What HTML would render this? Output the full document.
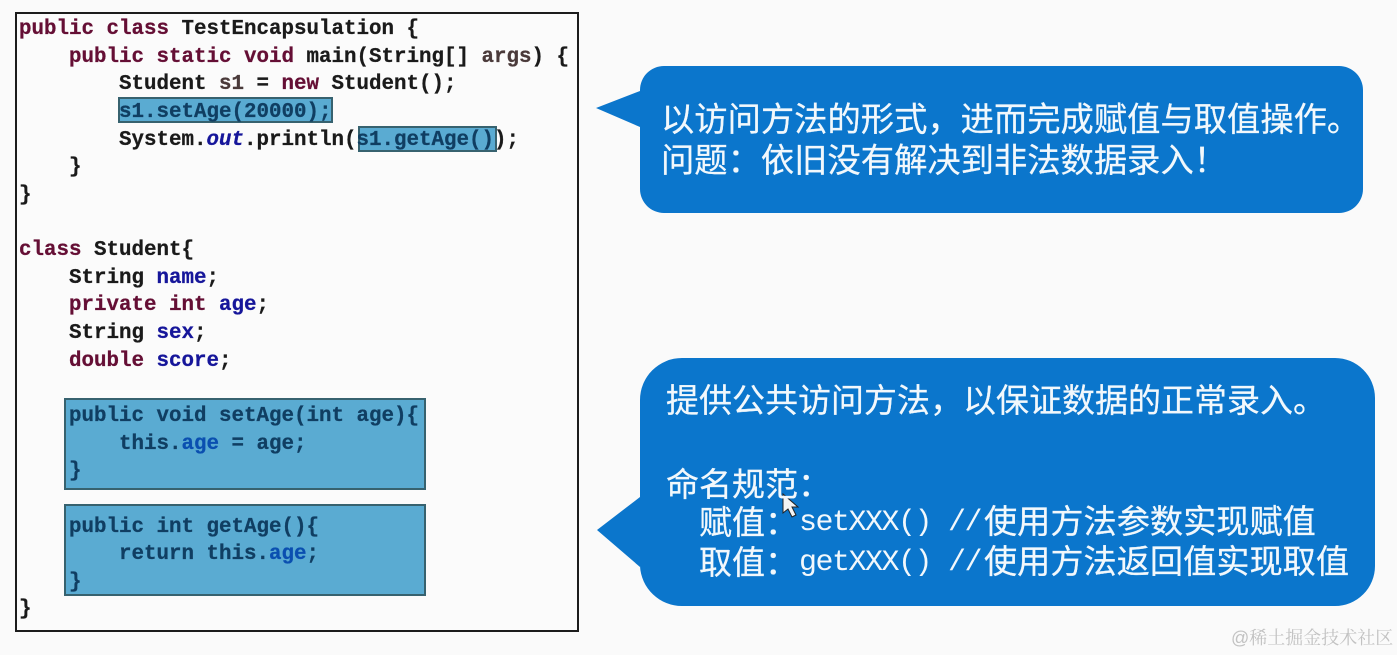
<!DOCTYPE html>
<html lang="zh">
<head>
<meta charset="utf-8">
<style>
html,body{margin:0;padding:0;width:1397px;height:655px;overflow:hidden;background:#fafafa}
#outer{position:absolute;left:15px;top:12px;width:560px;height:616px;border:2px solid #1c1c1c;background:#fbfbfb}
.hl{position:absolute;background:#5aabd2;border:2px solid #37626f;box-sizing:border-box}
pre{position:absolute;left:19px;top:16px;margin:0;font:bold 20.83px/27.64px "Liberation Mono",monospace;color:#1a1a1a;filter:blur(.35px);-webkit-text-stroke:.25px currentColor}
.k{color:#650f35}.f{color:#16169a}.v{color:#4a3a3a}.o{color:#16169a;font-style:italic}
.dk{color:#103e62}.b{color:#0a4fb0}
svg{position:absolute;left:0;top:0}
.c{position:absolute;white-space:pre;color:#f2f8fc;font-family:"Liberation Sans","Noto Sans CJK SC",sans-serif;font-size:33px;line-height:40px;filter:blur(.3px);-webkit-text-stroke:.25px #f2f8fc}
.p{font-family:"Liberation Sans","Noto Sans CJK TC",sans-serif}
.m{font-family:"Liberation Mono",monospace;font-size:30px;letter-spacing:-1.5px;-webkit-text-stroke:0}
#wm{position:absolute;left:1231px;top:627px;font:18px/22px "Liberation Sans","Noto Serif CJK SC",serif;color:#c2c2c2;white-space:pre}
</style>
</head>
<body>
<div id="outer"></div>
<div class="hl" style="left:118px;top:97px;width:215px;height:26px"></div>
<div class="hl" style="left:358px;top:126px;width:139px;height:26px"></div>
<div class="hl" style="left:64px;top:398px;width:362px;height:92px"></div>
<div class="hl" style="left:64px;top:504px;width:362px;height:92px"></div>
<pre><span class="k">public class</span> TestEncapsulation {
    <span class="k">public static void</span> main(String[] <span class="v">args</span>) {
        Student <span class="v">s1</span> = <span class="k">new</span> Student();
        <span class="dk">s1.setAge(20000);</span>
        System.<span class="o">out</span>.println(<span class="dk">s1.getAge()</span>);
    }
}

<span class="k">class</span> Student{
    String <span class="f">name</span>;
    <span class="k">private int</span> <span class="f">age</span>;
    String <span class="f">sex</span>;
    <span class="k">double</span> <span class="f">score</span>;

    <span class="dk">public void setAge(int age){</span>
        <span class="dk">this.</span><span class="b">age</span><span class="dk"> = age;</span>
    <span class="dk">}</span>

    <span class="dk">public int getAge(){</span>
        <span class="dk">return this.</span><span class="b">age</span><span class="dk">;</span>
    <span class="dk">}</span>
}</pre>
<svg width="1397" height="655" viewBox="0 0 1397 655">
<path d="M664 66H1339a24 24 0 0 1 24 24V189a24 24 0 0 1-24 24H664a24 24 0 0 1-24-24V127L596 108L640 91V90a24 24 0 0 1 24-24Z" fill="#0b76cc"/>
<path d="M682 358H1335a40 40 0 0 1 40 40V566a40 40 0 0 1-40 40H682a42 42 0 0 1-42-40V567L597 530L640 497V400a42 42 0 0 1 42-42Z" fill="#0b76cc"/>
<path d="M783 494V513L788 509L792 517L796 515L792 507L798 507Z" fill="#f4f4f4" stroke="#222" stroke-width="1"/>
</svg>
<div class="c" style="left:661px;top:101px;font-size:33.3px">以访问方法的形式，进而完成赋值与取值操作。</div>
<div class="c" style="left:661px;top:142px;font-size:33.3px">问题<span class="p">：</span>依旧没有解决到非法数据录入！</div>
<div class="c" style="left:666px;top:381px">提供公共访问方法，以保证数据的正常录入。</div>
<div class="c" style="left:666px;top:465px">命名规范<span class="p">：</span></div>
<div class="c" style="left:699px;top:503px">赋值<span class="p">：</span></div>
<div class="c m" style="left:799px;top:503px">setXXX()</div>
<div class="c m" style="left:948px;top:503px">//</div>
<div class="c" style="left:984px;top:503px;font-size:33.2px">使用方法参数实现赋值</div>
<div class="c" style="left:699px;top:543px">取值<span class="p">：</span></div>
<div class="c m" style="left:799px;top:543px">getXXX()</div>
<div class="c m" style="left:948px;top:543px">//</div>
<div class="c" style="left:984px;top:543px;font-size:33.2px">使用方法返回值实现取值</div>
<div id="wm">@稀土掘金技术社区</div>
</body>
</html>
